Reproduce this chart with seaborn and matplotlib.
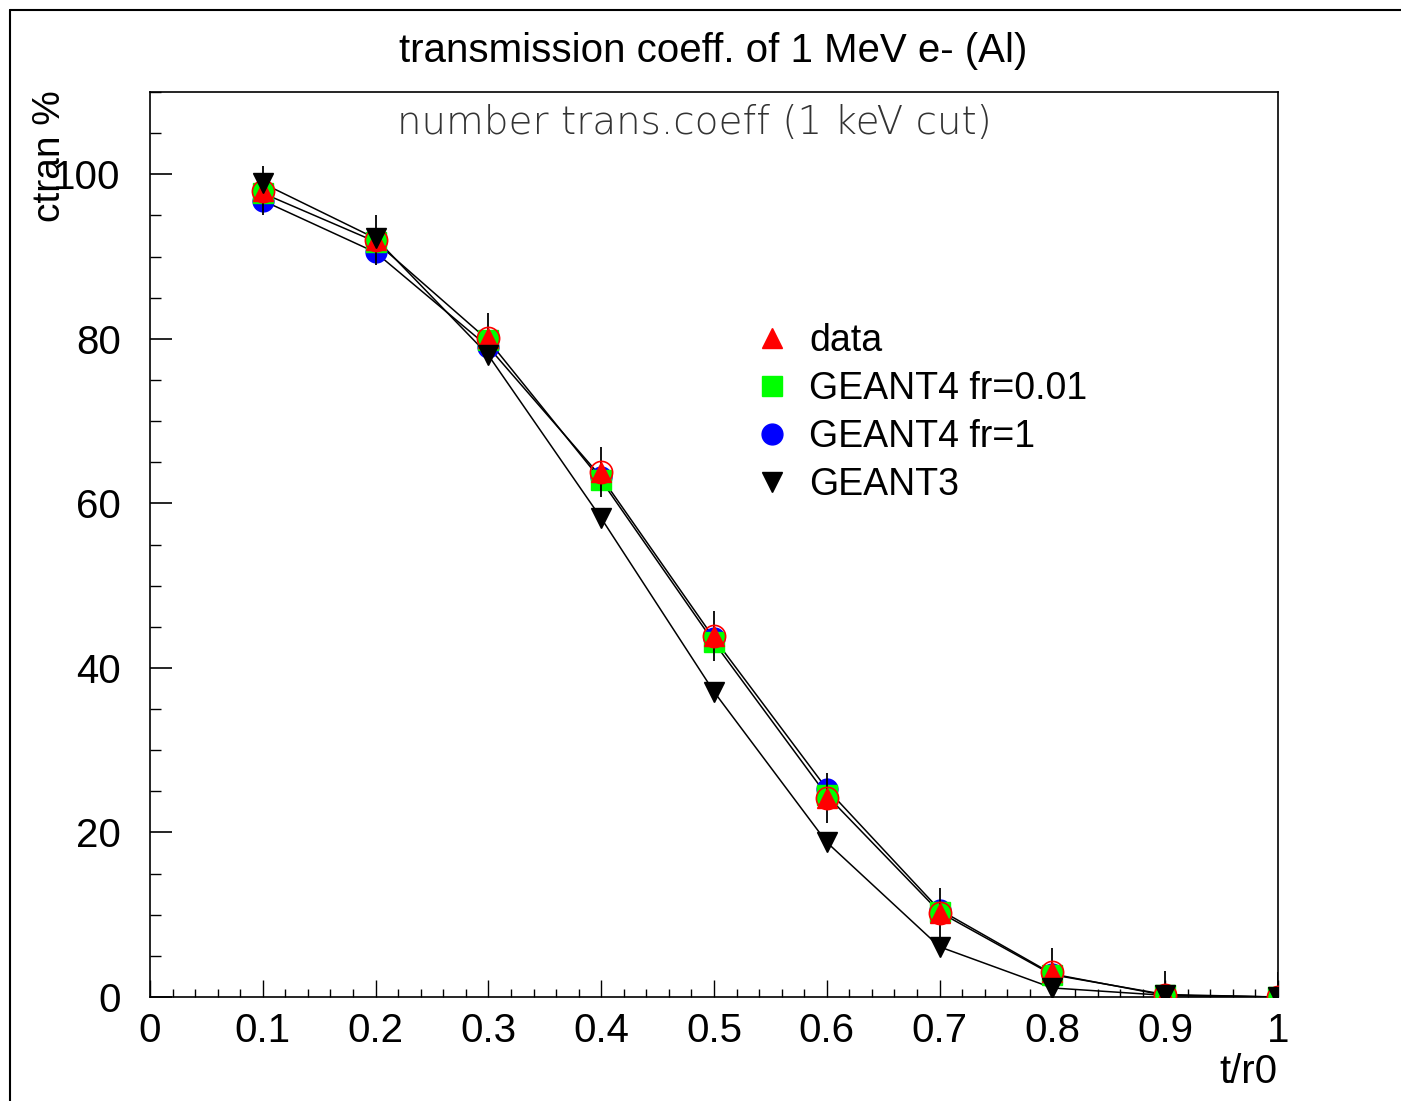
import matplotlib
matplotlib.use("Agg")
import matplotlib.pyplot as plt
from matplotlib.lines import Line2D
from matplotlib.ticker import MultipleLocator
import numpy as np
import pandas as pd
import seaborn as sns

# values
thickness = [0.1, 0.2, 0.3, 0.4, 0.5, 0.6, 0.7, 0.8, 0.9, 1.0]
data_vals = [98.0, 92.0, 80.1, 63.8, 43.9, 24.2, 10.2, 3.0, 0.2, 0.0]
data_err = [3, 3, 3, 3, 3, 3, 3, 3, 3, 3]
g4_fr001 = [97.7, 91.8, 79.8, 62.8, 43.1, 24.5, 10.3, 2.7, 0.3, 0.0]
g4_fr1 = [96.8, 90.5, 79.0, 63.2, 43.6, 25.3, 10.6, 2.8, 0.2, 0.0]
geant3 = [98.9, 92.2, 78.0, 58.2, 37.1, 18.8, 6.1, 1.1, 0.2, 0.0]

series_names = ["data", "GEANT4 fr=0.01", "GEANT4 fr=1", "GEANT3"]
x_ticks = [0, 0.1, 0.2, 0.3, 0.4, 0.5, 0.6, 0.7, 0.8, 0.9, 1]
x_ticklabels = ["0", "0.1", "0.2", "0.3", "0.4", "0.5", "0.6", "0.7", "0.8", "0.9", "1"]
y_ticks = [0, 20, 40, 60, 80, 100]

sns.set_style("white")
plt.rcParams['font.family'] = ['Liberation Sans', 'DejaVu Sans']
plt.rcParams['text.color'] = 'black'
plt.rcParams['xtick.color'] = 'black'
plt.rcParams['ytick.color'] = 'black'

fig = plt.figure(figsize=(14.01, 11.01), dpi=100)
ax = fig.add_axes([150/1401, 1 - 997/1101, 1128/1401, 905/1101])

# connecting lines for the simulations
for vals in [g4_fr001, g4_fr1, geant3]:
    sns.lineplot(x=thickness, y=vals, ax=ax, color="black", lw=1.1,
                 estimator=None, sort=False, zorder=2)

# markers
ax.plot(thickness, g4_fr1, "o", ms=15, color="#0000ff", mec="#0000ff", zorder=3)
ax.plot(thickness, g4_fr001, "s", ms=14, color="#00ff00", mec="#00ff00", zorder=4)
ax.errorbar(thickness, data_vals, yerr=data_err, fmt="none", ecolor="black",
            elinewidth=1.3, capsize=0, zorder=5)
ax.plot(thickness, data_vals, "o", ms=16, mfc="none", mec="red", mew=1.2, zorder=5)
ax.plot(thickness, data_vals, "^", ms=14, color="red", mec="red", zorder=6)
ax.plot(thickness, geant3, "v", ms=14, color="black", zorder=7)

ax.set_xlim(0, 1)
ax.set_ylim(0, 110)
ax.set_xticks(x_ticks)
ax.set_xticklabels(x_ticklabels)
ax.set_yticks(y_ticks)
ax.xaxis.set_minor_locator(MultipleLocator(0.02))
ax.yaxis.set_minor_locator(MultipleLocator(5))
ax.tick_params(axis="x", which="major", direction="in", length=12, width=1,
               labelsize=29, pad=11, top=False, bottom=True)
ax.tick_params(axis="x", which="minor", direction="in", length=6, width=1,
               top=False, bottom=True)
ax.tick_params(axis="y", which="major", direction="in", length=16, width=1.2,
               labelsize=29, pad=21, left=True, right=False)
ax.tick_params(axis="y", which="minor", direction="in", length=8, width=1,
               left=True, right=False)
for sp in ax.spines.values():
    sp.set_color("black")
    sp.set_linewidth(1.2)

ax.set_xlabel("")
ax.set_ylabel("")
ax.text(1.0, -0.083, "t/r0", transform=ax.transAxes, ha="right", va="center",
        fontsize=29)
fig.text(50/1401, 1 - 90/1101, "ctran %", rotation=90, ha="center", va="top",
         fontsize=28)

fig.text(713/1401, 1 - 51/1101, "transmission coeff. of 1 MeV e- (Al)",
         ha="center", va="center", fontsize=29)
ax.text(0.483, 1 - (123 - 92)/905, "number trans.coeff (1 keV cut)",
        transform=ax.transAxes, ha="center", va="center", fontsize=28,
        color="#333333", family="DejaVu Sans", fontweight="ultralight")

handles = [
    Line2D([], [], ls="none", marker="^", ms=14, color="red"),
    Line2D([], [], ls="none", marker="s", ms=14, color="#00ff00"),
    Line2D([], [], ls="none", marker="o", ms=15, color="#0000ff"),
    Line2D([], [], ls="none", marker="v", ms=14, color="black"),
]
ax.legend(handles, series_names, loc="center left",
          bbox_to_anchor=((755 - 150)/1128, (997 - 413)/905),
          frameon=False, fontsize=27, handlelength=0.9, handletextpad=0.55,
          labelspacing=0.32, borderpad=0, borderaxespad=0)

# outer pad frame
fig.add_artist(Line2D([10/1401, 1], [1 - 10/1101, 1 - 10/1101],
                      transform=fig.transFigure, color="black", lw=1.5))
fig.add_artist(Line2D([10/1401, 10/1401], [0, 1 - 10/1101],
                      transform=fig.transFigure, color="black", lw=1.5))

fig.savefig("out.png", dpi=100)
